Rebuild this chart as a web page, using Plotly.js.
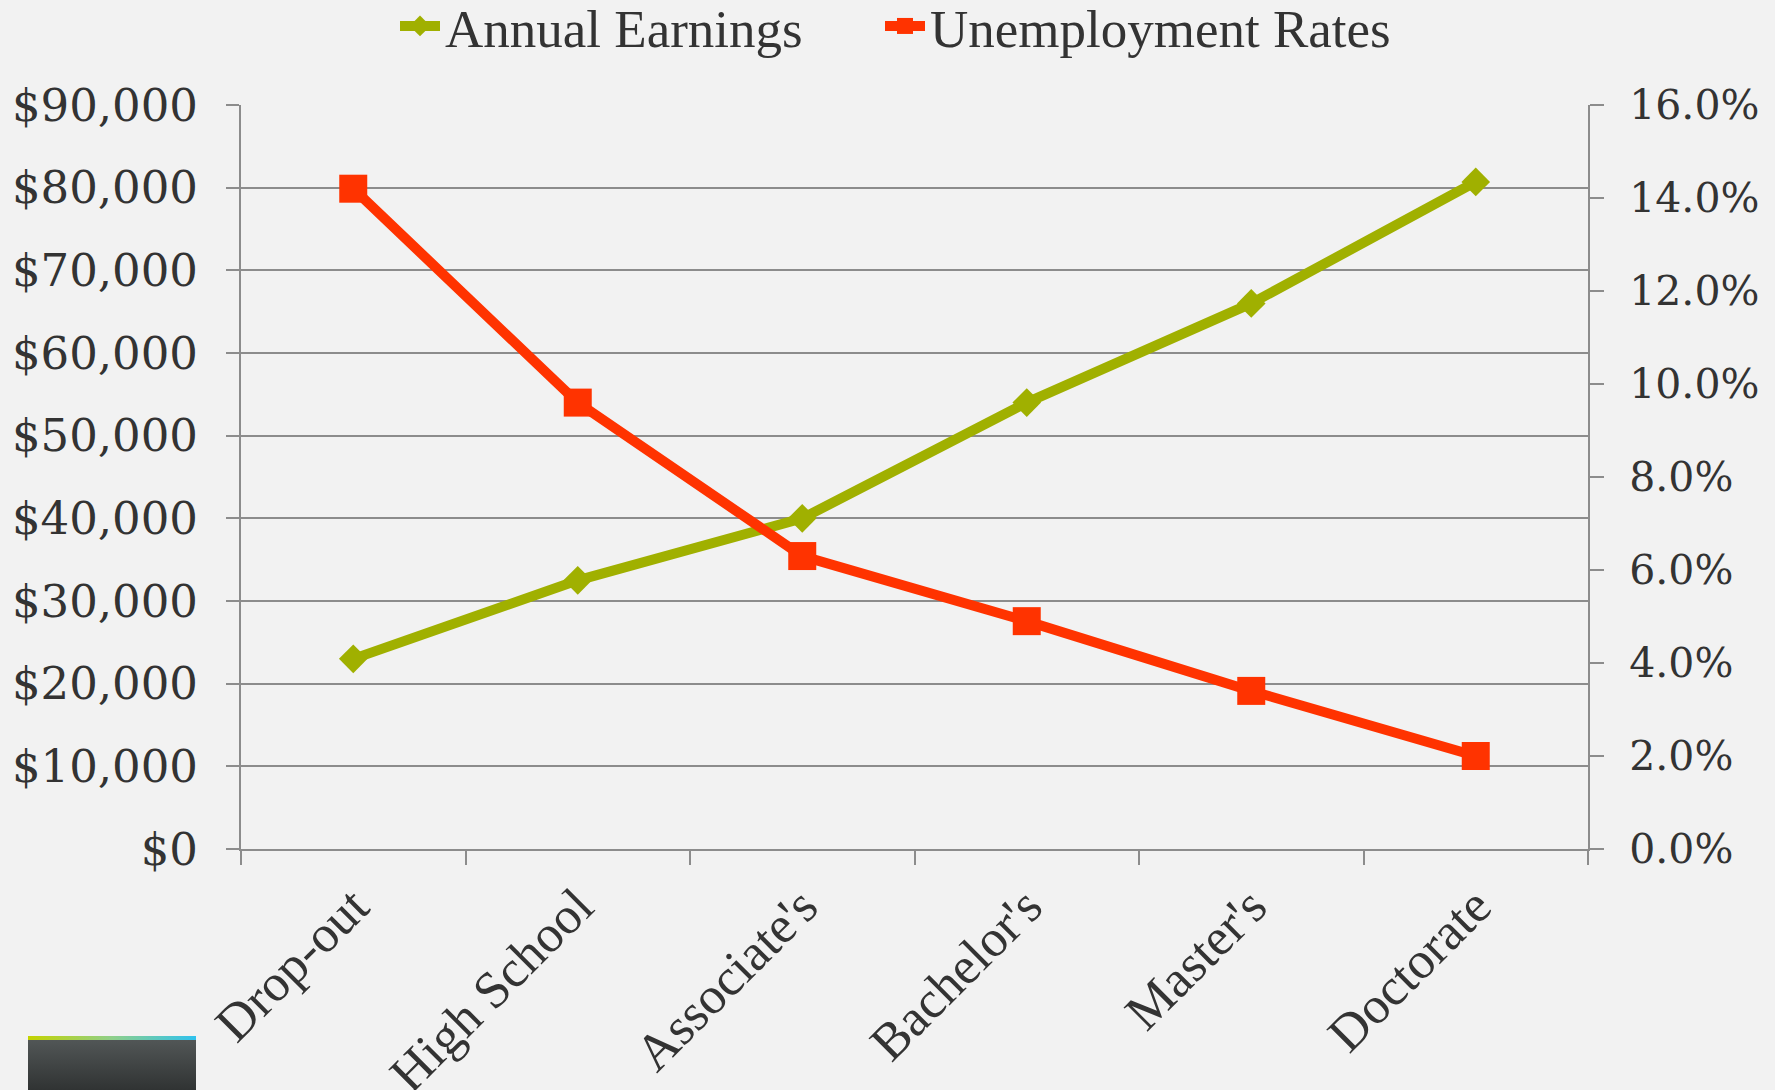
<!DOCTYPE html>
<html>
<head>
<meta charset="utf-8">
<script src="https://cdn.plot.ly/plotly-3.0.1.min.js"></script>
<style>
  html, body { margin: 0; padding: 0; background: #f2f2f2; }
  #chart { width: 1775px; height: 1090px; }
</style>
</head>
<body>
<div id="chart"></div>
<script>
// ---- data ----
const categories = ["Drop-out", "High School", "Associate's", "Bachelor's", "Master's", "Doctorate"];
const annualEarnings = [23000, 32500, 40000, 54000, 66000, 80700];
const unemploymentRates = [0.142, 0.096, 0.063, 0.049, 0.034, 0.020];
const seriesNames = ["Annual Earnings", "Unemployment Rates"];

const GREEN = "#a0b000";
const RED = "#ff3300";
const GRID = "#8c8c8c";
const TEXT = "#333333";
const FONT = "Liberation Serif, Times New Roman, serif";
const TICKFONT = "DejaVu Serif, serif";

const traces = [
  {
    x: categories, y: annualEarnings, name: seriesNames[0],
    type: "scatter", mode: "lines+markers", yaxis: "y", legend: "legend",
    line: { color: GREEN, width: 10 },
    marker: { symbol: "diamond", size: 22, color: GREEN },
    hoverinfo: "skip"
  },
  {
    x: categories, y: unemploymentRates, name: seriesNames[1],
    type: "scatter", mode: "lines+markers", yaxis: "y2", legend: "legend2",
    line: { color: RED, width: 10 },
    marker: { symbol: "square", size: 28, color: RED },
    hoverinfo: "skip"
  }
];

const decoSvg = '<svg xmlns="http://www.w3.org/2000/svg" width="168" height="54" viewBox="0 0 168 54">' +
  '<defs><linearGradient id="t" x1="0" y1="0" x2="1" y2="0">' +
  '<stop offset="0" stop-color="#c4d300"/><stop offset="0.5" stop-color="#8fcf8a"/><stop offset="1" stop-color="#2fc2ee"/></linearGradient>' +
  '<linearGradient id="b" x1="0" y1="0" x2="0" y2="1"><stop offset="0" stop-color="#545959"/><stop offset="1" stop-color="#303333"/></linearGradient></defs>' +
  '<rect x="0" y="0" width="168" height="54" fill="url(#b)"/>' +
  '<rect x="0" y="0" width="168" height="4" fill="url(#t)"/></svg>';
const decoSrc = "data:image/svg+xml;base64," + btoa(decoSvg);

const L = 241, R = 1588, T = 105, B = 849;
const W = 1775, H = 1090;
const pw = R - L, ph = B - T;

function legendAt(leftPx) {
  return {
    orientation: "h",
    x: (leftPx - L) / pw, xanchor: "left",
    y: 1 + (T - 26) / ph, yanchor: "middle",
    font: { family: FONT, size: 53, color: TEXT },
    bgcolor: "rgba(0,0,0,0)",
    itemwidth: 40
  };
}

const layout = {
  width: W, height: H,
  paper_bgcolor: "#f2f2f2",
  plot_bgcolor: "#f2f2f2",
  margin: { l: L, r: W - R, t: T, b: H - B, pad: 0, autoexpand: false },
  font: { family: FONT, color: TEXT, size: 48 },
  showlegend: true,
  legend: legendAt(395),
  legend2: legendAt(880),
  xaxis: {
    type: "category",
    range: [-0.5, categories.length - 0.5],
    showgrid: false,
    showline: true, linecolor: GRID, linewidth: 2,
    ticks: "outside", tickson: "boundaries", ticklen: 14, tickwidth: 2, tickcolor: GRID,
    tickangle: -45,
    tickfont: { family: FONT, size: 52, color: TEXT },
    ticklabelstandoff: 4,
    zeroline: false
  },
  yaxis: {
    range: [0, 90000], dtick: 10000, tick0: 0,
    tickprefix: "$", tickformat: ",d",
    showgrid: true, gridcolor: GRID, gridwidth: 2,
    showline: true, linecolor: GRID, linewidth: 2,
    ticks: "outside", ticklen: 13, tickwidth: 2, tickcolor: GRID,
    tickfont: { family: TICKFONT, size: 45, color: TEXT },
    ticklabelstandoff: 19,
    zeroline: false
  },
  yaxis2: {
    overlaying: "y", side: "right",
    range: [0, 0.16], dtick: 0.02, tick0: 0,
    tickformat: ".1%",
    showgrid: false,
    showline: true, linecolor: GRID, linewidth: 2,
    ticks: "outside", ticklen: 14, tickwidth: 2, tickcolor: GRID,
    tickfont: { family: TICKFONT, size: 41, color: TEXT },
    ticklabelstandoff: 17,
    zeroline: false
  },
  images: [{
    source: decoSrc,
    xref: "paper", yref: "paper",
    x: (28 - L) / pw, y: -(1036 - B) / ph,
    sizex: 168 / pw, sizey: 54 / ph,
    xanchor: "left", yanchor: "top",
    sizing: "stretch", layer: "above"
  }]
};

Plotly.newPlot("chart", traces, layout, { displayModeBar: false, staticPlot: true });
</script>
</body>
</html>
